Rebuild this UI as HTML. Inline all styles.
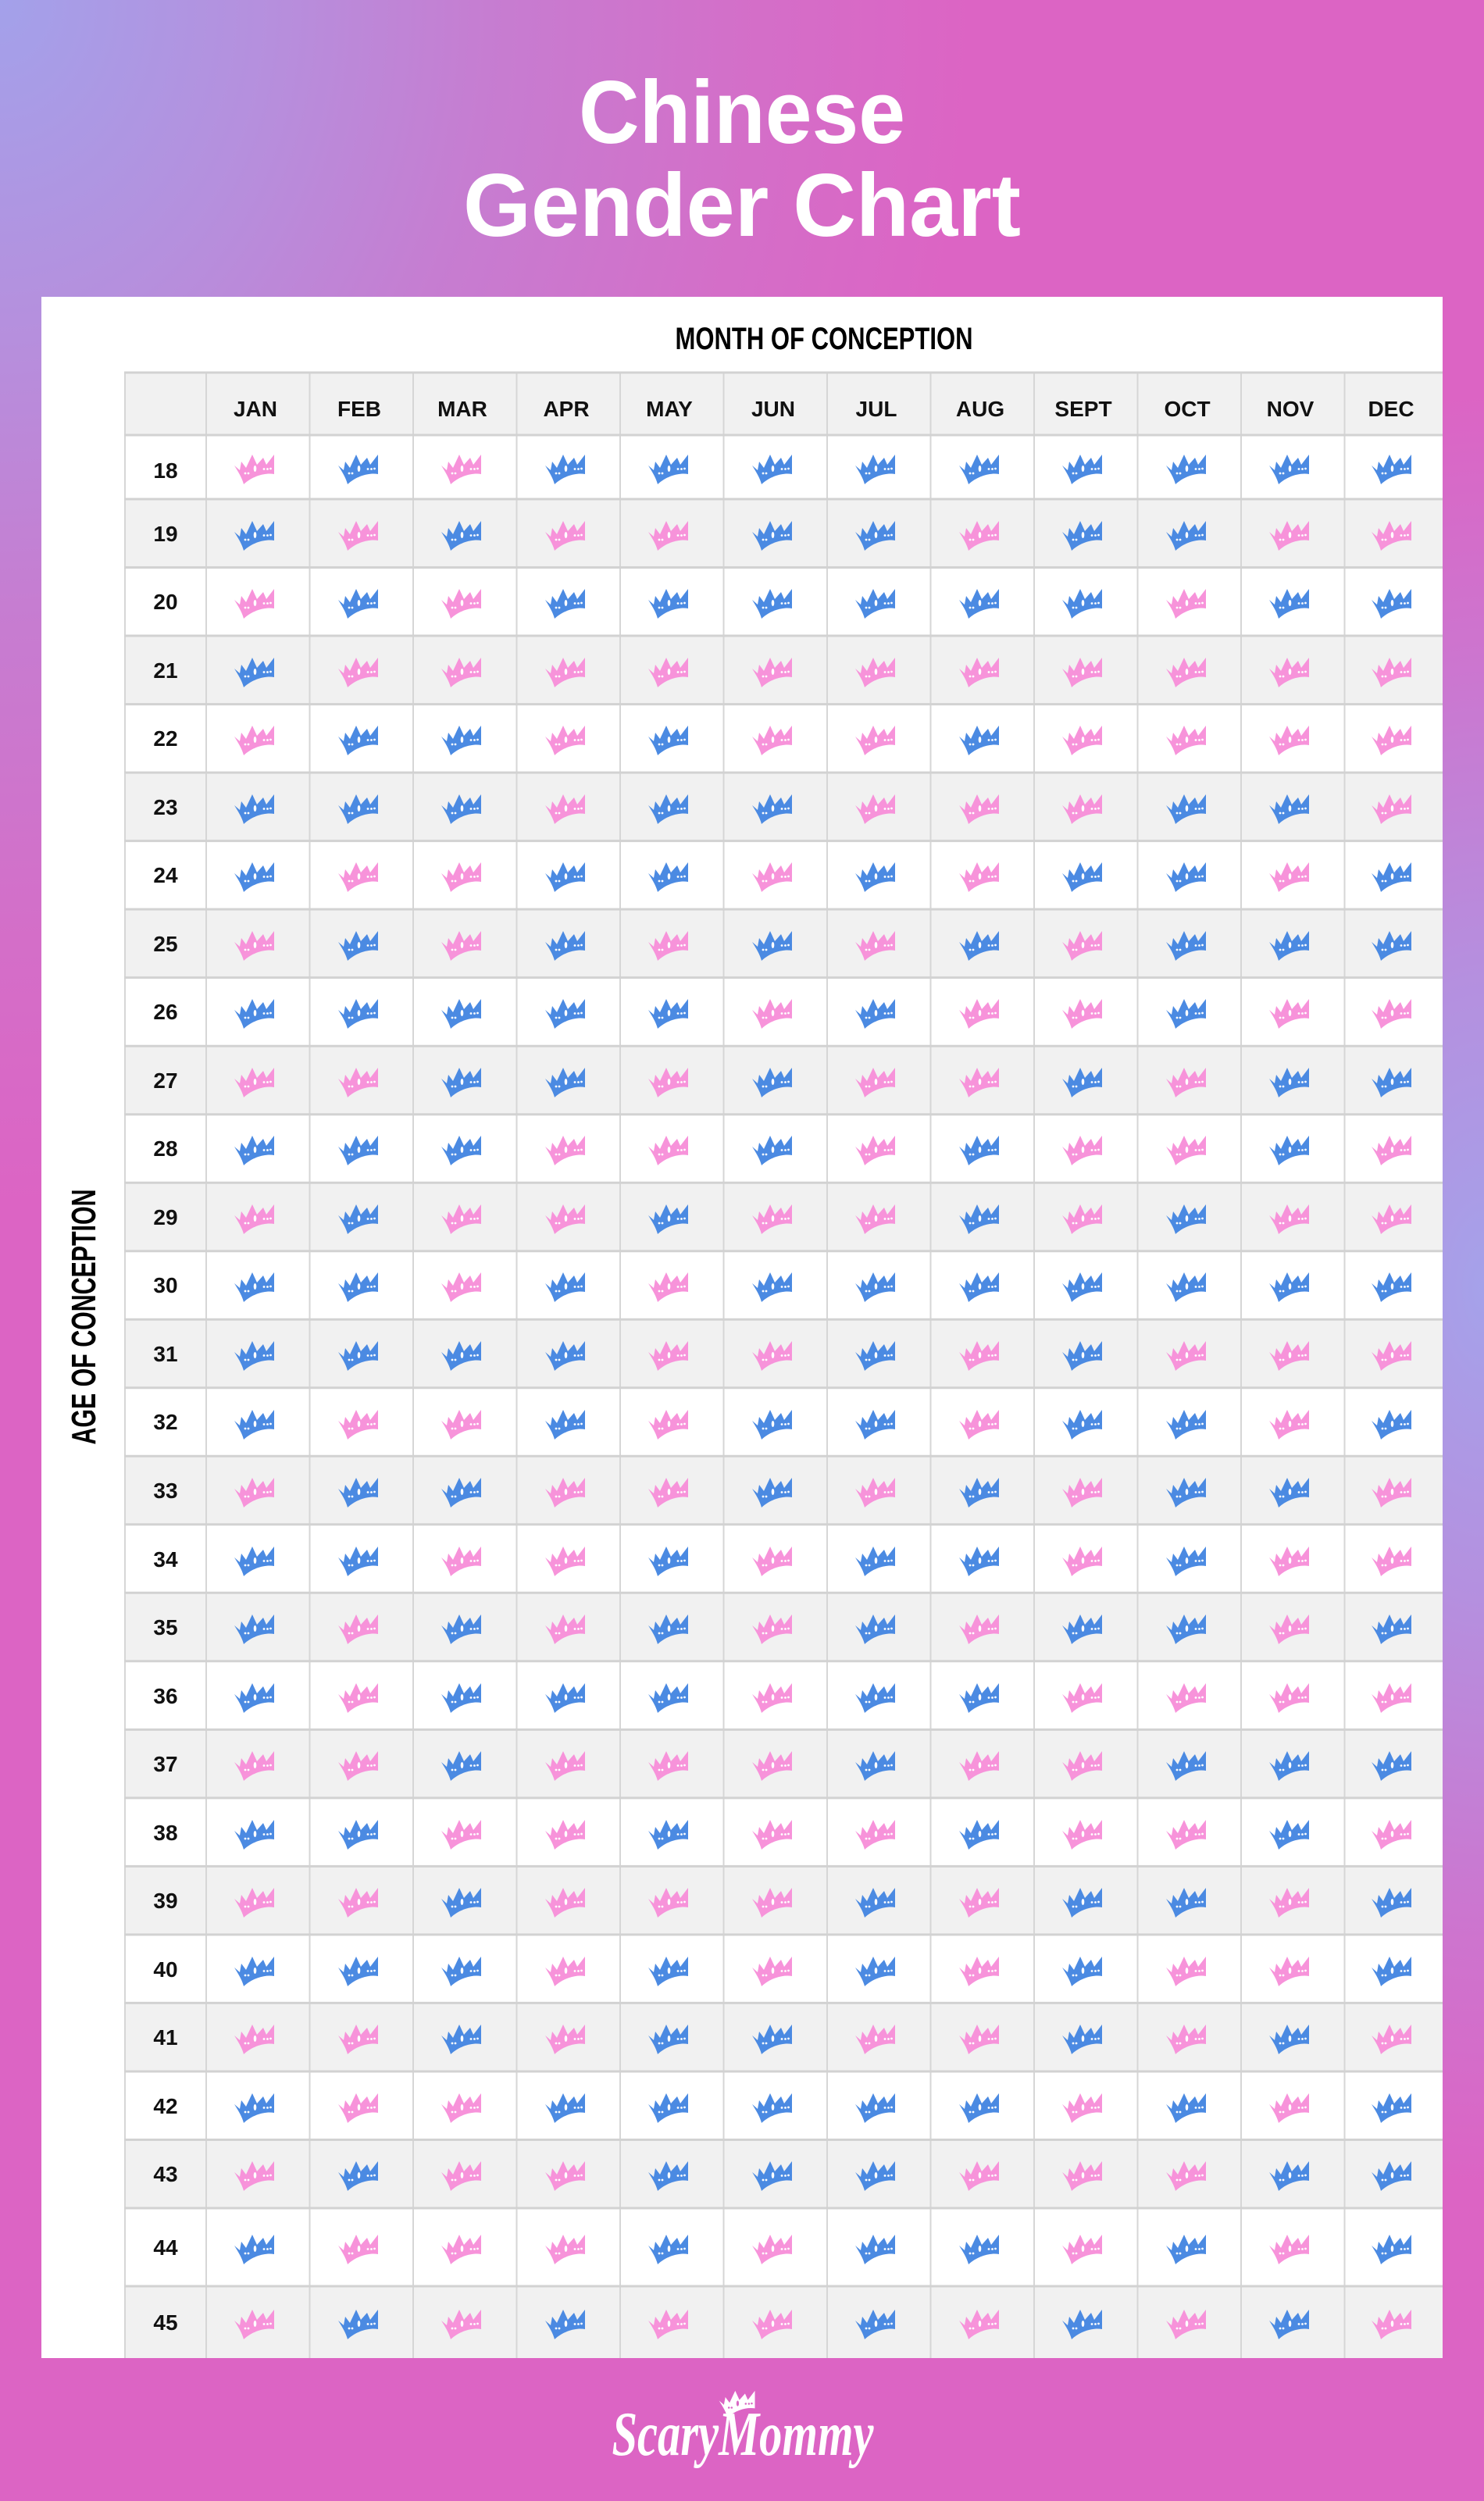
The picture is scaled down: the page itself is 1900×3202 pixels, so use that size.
<!DOCTYPE html>
<html>
<head>
<meta charset="utf-8">
<style>
html,body{margin:0;padding:0;width:1900px;height:3202px;overflow:hidden}
body{
background:
radial-gradient(ellipse 560px 1150px at 1900px 1650px, rgba(165,162,234,1) 0%, rgba(168,158,232,0.75) 35%, rgba(175,150,228,0.35) 70%, rgba(180,140,225,0) 100%),
radial-gradient(ellipse 1250px 1550px at 0 0, #a3a1ea 0%, #b68fdd 28%, #c67dd1 50%, #d46ec8 78%, rgba(220,100,196,0) 100%),
#dc64c4;
}
svg{display:block;position:absolute;left:0;top:0}
</style>
</head>
<body>
<svg width="1900" height="3202" viewBox="0 0 1900 3202" xmlns="http://www.w3.org/2000/svg">
<defs>
<path id="cr" d="M-26,-5 L-19,1 L-17,-10 L-11,-2 L-3,-19 L3,-6 L11,-15 L15,-6 L25,-19 L25,6 C14,4 -2,8 -14,19 C-16,11 -21,3 -26,-5 Z"/>
<g id="dt"><ellipse cx="0.5" cy="-1" rx="1.8" ry="4"/><circle cx="-12" cy="5" r="1.4"/><circle cx="-8" cy="5" r="1.4"/><circle cx="12" cy="-0.5" r="1.4"/><circle cx="16.5" cy="-0.5" r="1.4"/><circle cx="20.5" cy="-1" r="1.4"/></g>
<g id="p"><use href="#cr" fill="#f793da"/><use href="#dt" fill="#fff"/></g>
<g id="b"><use href="#cr" fill="#4b8ae2"/><use href="#dt" fill="#fff"/></g>
</defs>

<!-- Title -->
<g font-family="'Liberation Sans', Arial, sans-serif" font-weight="bold" fill="#fff" text-anchor="middle" font-size="114">
<text x="950" y="183" textLength="418" lengthAdjust="spacingAndGlyphs">Chinese</text>
<text x="950" y="302" textLength="714" lengthAdjust="spacingAndGlyphs">Gender Chart</text>
</g>

<!-- Panel -->
<rect x="53" y="380" width="1794" height="2639" fill="#fff"/>

<text x="1055" y="447" font-family="'Liberation Sans', Arial, sans-serif" font-weight="bold" font-size="40" text-anchor="middle" fill="#000" textLength="381" lengthAdjust="spacingAndGlyphs">MONTH OF CONCEPTION</text>
<g transform="translate(122,1686) rotate(-90)">
<text x="0" y="0" font-family="'Liberation Sans', Arial, sans-serif" font-weight="bold" font-size="44" text-anchor="middle" fill="#000" textLength="327" lengthAdjust="spacingAndGlyphs">AGE OF CONCEPTION</text>
</g>

<!-- Row fills -->
<g fill="#f1f1f1">
<rect x="160" y="477" width="1687" height="80"/>
<rect x="160" y="639" width="1687" height="87.5"/>
<rect x="160" y="814" width="1687" height="87.6"/>
<rect x="160" y="989.1" width="1687" height="87.5"/>
<rect x="160" y="1164.1" width="1687" height="87.5"/>
<rect x="160" y="1339.2" width="1687" height="87.5"/>
<rect x="160" y="1514.2" width="1687" height="87.5"/>
<rect x="160" y="1689.2" width="1687" height="87.6"/>
<rect x="160" y="1864.3" width="1687" height="87.5"/>
<rect x="160" y="2039.3" width="1687" height="87.5"/>
<rect x="160" y="2214.4" width="1687" height="87.5"/>
<rect x="160" y="2389.4" width="1687" height="87.5"/>
<rect x="160" y="2564.4" width="1687" height="87.6"/>
<rect x="160" y="2739.5" width="1687" height="87.5"/>
<rect x="160" y="2927" width="1687" height="92"/>
</g>

<!-- Grid lines -->
<path fill="none" stroke="#d6d6d6" stroke-width="2" d="M160,477V3019 M264,477V3019 M396.5,477V3019 M529,477V3019 M661.5,477V3019 M794,477V3019 M926.5,477V3019 M1059,477V3019 M1191.5,477V3019 M1324,477V3019 M1456.5,477V3019 M1589,477V3019 M1721.5,477V3019"/>
<path fill="none" stroke="#d2d2d2" stroke-width="3" d="M159,477H1847 M159,557H1847 M159,639H1847 M159,726.5H1847 M159,814H1847 M159,901.6H1847 M159,989.1H1847 M159,1076.6H1847 M159,1164.1H1847 M159,1251.6H1847 M159,1339.2H1847 M159,1426.7H1847 M159,1514.2H1847 M159,1601.7H1847 M159,1689.2H1847 M159,1776.8H1847 M159,1864.3H1847 M159,1951.8H1847 M159,2039.3H1847 M159,2126.8H1847 M159,2214.4H1847 M159,2301.9H1847 M159,2389.4H1847 M159,2476.9H1847 M159,2564.4H1847 M159,2652H1847 M159,2739.5H1847 M159,2827H1847 M159,2927H1847"/>

<!-- Month headers -->
<g font-family="'Liberation Sans', Arial, sans-serif" font-weight="bold" font-size="28" text-anchor="middle" fill="#111">
<text x="327" y="533">JAN</text>
<text x="460" y="533">FEB</text>
<text x="592" y="533">MAR</text>
<text x="725" y="533">APR</text>
<text x="857" y="533">MAY</text>
<text x="990" y="533">JUN</text>
<text x="1122" y="533">JUL</text>
<text x="1255" y="533">AUG</text>
<text x="1387" y="533">SEPT</text>
<text x="1520" y="533">OCT</text>
<text x="1652" y="533">NOV</text>
<text x="1781" y="533">DEC</text>
</g>

<!-- Age labels -->
<g font-family="'Liberation Sans', Arial, sans-serif" font-weight="bold" font-size="28" text-anchor="middle" fill="#111">
<text x="212" y="612">18</text>
<text x="212" y="693">19</text>
<text x="212" y="780">20</text>
<text x="212" y="868">21</text>
<text x="212" y="955">22</text>
<text x="212" y="1043">23</text>
<text x="212" y="1130">24</text>
<text x="212" y="1218">25</text>
<text x="212" y="1305">26</text>
<text x="212" y="1393">27</text>
<text x="212" y="1480">28</text>
<text x="212" y="1568">29</text>
<text x="212" y="1655">30</text>
<text x="212" y="1743">31</text>
<text x="212" y="1830">32</text>
<text x="212" y="1918">33</text>
<text x="212" y="2006">34</text>
<text x="212" y="2093">35</text>
<text x="212" y="2181">36</text>
<text x="212" y="2268">37</text>
<text x="212" y="2356">38</text>
<text x="212" y="2443">39</text>
<text x="212" y="2531">40</text>
<text x="212" y="2618">41</text>
<text x="212" y="2706">42</text>
<text x="212" y="2793">43</text>
<text x="212" y="2887">44</text>
<text x="212" y="2983">45</text>
</g>

<!-- Crowns -->
<g transform="translate(0,601)"><use href="#p" x="326"/><use href="#b" x="459"/><use href="#p" x="591"/><use href="#b" x="724"/><use href="#b" x="856"/><use href="#b" x="989"/><use href="#b" x="1121"/><use href="#b" x="1254"/><use href="#b" x="1386"/><use href="#b" x="1519"/><use href="#b" x="1651"/><use href="#b" x="1782"/></g>
<g transform="translate(0,686)"><use href="#b" x="326"/><use href="#p" x="459"/><use href="#b" x="591"/><use href="#p" x="724"/><use href="#p" x="856"/><use href="#b" x="989"/><use href="#b" x="1121"/><use href="#p" x="1254"/><use href="#b" x="1386"/><use href="#b" x="1519"/><use href="#p" x="1651"/><use href="#p" x="1782"/></g>
<g transform="translate(0,773)"><use href="#p" x="326"/><use href="#b" x="459"/><use href="#p" x="591"/><use href="#b" x="724"/><use href="#b" x="856"/><use href="#b" x="989"/><use href="#b" x="1121"/><use href="#b" x="1254"/><use href="#b" x="1386"/><use href="#p" x="1519"/><use href="#b" x="1651"/><use href="#b" x="1782"/></g>
<g transform="translate(0,861)"><use href="#b" x="326"/><use href="#p" x="459"/><use href="#p" x="591"/><use href="#p" x="724"/><use href="#p" x="856"/><use href="#p" x="989"/><use href="#p" x="1121"/><use href="#p" x="1254"/><use href="#p" x="1386"/><use href="#p" x="1519"/><use href="#p" x="1651"/><use href="#p" x="1782"/></g>
<g transform="translate(0,948)"><use href="#p" x="326"/><use href="#b" x="459"/><use href="#b" x="591"/><use href="#p" x="724"/><use href="#b" x="856"/><use href="#p" x="989"/><use href="#p" x="1121"/><use href="#b" x="1254"/><use href="#p" x="1386"/><use href="#p" x="1519"/><use href="#p" x="1651"/><use href="#p" x="1782"/></g>
<g transform="translate(0,1036)"><use href="#b" x="326"/><use href="#b" x="459"/><use href="#b" x="591"/><use href="#p" x="724"/><use href="#b" x="856"/><use href="#b" x="989"/><use href="#p" x="1121"/><use href="#p" x="1254"/><use href="#p" x="1386"/><use href="#b" x="1519"/><use href="#b" x="1651"/><use href="#p" x="1782"/></g>
<g transform="translate(0,1123)"><use href="#b" x="326"/><use href="#p" x="459"/><use href="#p" x="591"/><use href="#b" x="724"/><use href="#b" x="856"/><use href="#p" x="989"/><use href="#b" x="1121"/><use href="#p" x="1254"/><use href="#b" x="1386"/><use href="#b" x="1519"/><use href="#p" x="1651"/><use href="#b" x="1782"/></g>
<g transform="translate(0,1211)"><use href="#p" x="326"/><use href="#b" x="459"/><use href="#p" x="591"/><use href="#b" x="724"/><use href="#p" x="856"/><use href="#b" x="989"/><use href="#p" x="1121"/><use href="#b" x="1254"/><use href="#p" x="1386"/><use href="#b" x="1519"/><use href="#b" x="1651"/><use href="#b" x="1782"/></g>
<g transform="translate(0,1298)"><use href="#b" x="326"/><use href="#b" x="459"/><use href="#b" x="591"/><use href="#b" x="724"/><use href="#b" x="856"/><use href="#p" x="989"/><use href="#b" x="1121"/><use href="#p" x="1254"/><use href="#p" x="1386"/><use href="#b" x="1519"/><use href="#p" x="1651"/><use href="#p" x="1782"/></g>
<g transform="translate(0,1386)"><use href="#p" x="326"/><use href="#p" x="459"/><use href="#b" x="591"/><use href="#b" x="724"/><use href="#p" x="856"/><use href="#b" x="989"/><use href="#p" x="1121"/><use href="#p" x="1254"/><use href="#b" x="1386"/><use href="#p" x="1519"/><use href="#b" x="1651"/><use href="#b" x="1782"/></g>
<g transform="translate(0,1473)"><use href="#b" x="326"/><use href="#b" x="459"/><use href="#b" x="591"/><use href="#p" x="724"/><use href="#p" x="856"/><use href="#b" x="989"/><use href="#p" x="1121"/><use href="#b" x="1254"/><use href="#p" x="1386"/><use href="#p" x="1519"/><use href="#b" x="1651"/><use href="#p" x="1782"/></g>
<g transform="translate(0,1561)"><use href="#p" x="326"/><use href="#b" x="459"/><use href="#p" x="591"/><use href="#p" x="724"/><use href="#b" x="856"/><use href="#p" x="989"/><use href="#p" x="1121"/><use href="#b" x="1254"/><use href="#p" x="1386"/><use href="#b" x="1519"/><use href="#p" x="1651"/><use href="#p" x="1782"/></g>
<g transform="translate(0,1648)"><use href="#b" x="326"/><use href="#b" x="459"/><use href="#p" x="591"/><use href="#b" x="724"/><use href="#p" x="856"/><use href="#b" x="989"/><use href="#b" x="1121"/><use href="#b" x="1254"/><use href="#b" x="1386"/><use href="#b" x="1519"/><use href="#b" x="1651"/><use href="#b" x="1782"/></g>
<g transform="translate(0,1736)"><use href="#b" x="326"/><use href="#b" x="459"/><use href="#b" x="591"/><use href="#b" x="724"/><use href="#p" x="856"/><use href="#p" x="989"/><use href="#b" x="1121"/><use href="#p" x="1254"/><use href="#b" x="1386"/><use href="#p" x="1519"/><use href="#p" x="1651"/><use href="#p" x="1782"/></g>
<g transform="translate(0,1824)"><use href="#b" x="326"/><use href="#p" x="459"/><use href="#p" x="591"/><use href="#b" x="724"/><use href="#p" x="856"/><use href="#b" x="989"/><use href="#b" x="1121"/><use href="#p" x="1254"/><use href="#b" x="1386"/><use href="#b" x="1519"/><use href="#p" x="1651"/><use href="#b" x="1782"/></g>
<g transform="translate(0,1911)"><use href="#p" x="326"/><use href="#b" x="459"/><use href="#b" x="591"/><use href="#p" x="724"/><use href="#p" x="856"/><use href="#b" x="989"/><use href="#p" x="1121"/><use href="#b" x="1254"/><use href="#p" x="1386"/><use href="#b" x="1519"/><use href="#b" x="1651"/><use href="#p" x="1782"/></g>
<g transform="translate(0,1999)"><use href="#b" x="326"/><use href="#b" x="459"/><use href="#p" x="591"/><use href="#p" x="724"/><use href="#b" x="856"/><use href="#p" x="989"/><use href="#b" x="1121"/><use href="#b" x="1254"/><use href="#p" x="1386"/><use href="#b" x="1519"/><use href="#p" x="1651"/><use href="#p" x="1782"/></g>
<g transform="translate(0,2086)"><use href="#b" x="326"/><use href="#p" x="459"/><use href="#b" x="591"/><use href="#p" x="724"/><use href="#b" x="856"/><use href="#p" x="989"/><use href="#b" x="1121"/><use href="#p" x="1254"/><use href="#b" x="1386"/><use href="#b" x="1519"/><use href="#p" x="1651"/><use href="#b" x="1782"/></g>
<g transform="translate(0,2174)"><use href="#b" x="326"/><use href="#p" x="459"/><use href="#b" x="591"/><use href="#b" x="724"/><use href="#b" x="856"/><use href="#p" x="989"/><use href="#b" x="1121"/><use href="#b" x="1254"/><use href="#p" x="1386"/><use href="#p" x="1519"/><use href="#p" x="1651"/><use href="#p" x="1782"/></g>
<g transform="translate(0,2261)"><use href="#p" x="326"/><use href="#p" x="459"/><use href="#b" x="591"/><use href="#p" x="724"/><use href="#p" x="856"/><use href="#p" x="989"/><use href="#b" x="1121"/><use href="#p" x="1254"/><use href="#p" x="1386"/><use href="#b" x="1519"/><use href="#b" x="1651"/><use href="#b" x="1782"/></g>
<g transform="translate(0,2349)"><use href="#b" x="326"/><use href="#b" x="459"/><use href="#p" x="591"/><use href="#p" x="724"/><use href="#b" x="856"/><use href="#p" x="989"/><use href="#p" x="1121"/><use href="#b" x="1254"/><use href="#p" x="1386"/><use href="#p" x="1519"/><use href="#b" x="1651"/><use href="#p" x="1782"/></g>
<g transform="translate(0,2436)"><use href="#p" x="326"/><use href="#p" x="459"/><use href="#b" x="591"/><use href="#p" x="724"/><use href="#p" x="856"/><use href="#p" x="989"/><use href="#b" x="1121"/><use href="#p" x="1254"/><use href="#b" x="1386"/><use href="#b" x="1519"/><use href="#p" x="1651"/><use href="#b" x="1782"/></g>
<g transform="translate(0,2524)"><use href="#b" x="326"/><use href="#b" x="459"/><use href="#b" x="591"/><use href="#p" x="724"/><use href="#b" x="856"/><use href="#p" x="989"/><use href="#b" x="1121"/><use href="#p" x="1254"/><use href="#b" x="1386"/><use href="#p" x="1519"/><use href="#p" x="1651"/><use href="#b" x="1782"/></g>
<g transform="translate(0,2611)"><use href="#p" x="326"/><use href="#p" x="459"/><use href="#b" x="591"/><use href="#p" x="724"/><use href="#b" x="856"/><use href="#b" x="989"/><use href="#p" x="1121"/><use href="#p" x="1254"/><use href="#b" x="1386"/><use href="#p" x="1519"/><use href="#b" x="1651"/><use href="#p" x="1782"/></g>
<g transform="translate(0,2699)"><use href="#b" x="326"/><use href="#p" x="459"/><use href="#p" x="591"/><use href="#b" x="724"/><use href="#b" x="856"/><use href="#b" x="989"/><use href="#b" x="1121"/><use href="#b" x="1254"/><use href="#p" x="1386"/><use href="#b" x="1519"/><use href="#p" x="1651"/><use href="#b" x="1782"/></g>
<g transform="translate(0,2786)"><use href="#p" x="326"/><use href="#b" x="459"/><use href="#p" x="591"/><use href="#p" x="724"/><use href="#b" x="856"/><use href="#b" x="989"/><use href="#b" x="1121"/><use href="#p" x="1254"/><use href="#p" x="1386"/><use href="#p" x="1519"/><use href="#b" x="1651"/><use href="#b" x="1782"/></g>
<g transform="translate(0,2880)"><use href="#b" x="326"/><use href="#p" x="459"/><use href="#p" x="591"/><use href="#p" x="724"/><use href="#b" x="856"/><use href="#p" x="989"/><use href="#b" x="1121"/><use href="#b" x="1254"/><use href="#p" x="1386"/><use href="#b" x="1519"/><use href="#p" x="1651"/><use href="#b" x="1782"/></g>
<g transform="translate(0,2976)"><use href="#p" x="326"/><use href="#b" x="459"/><use href="#p" x="591"/><use href="#b" x="724"/><use href="#p" x="856"/><use href="#p" x="989"/><use href="#b" x="1121"/><use href="#p" x="1254"/><use href="#b" x="1386"/><use href="#p" x="1519"/><use href="#b" x="1651"/><use href="#p" x="1782"/></g>

<!-- Logo -->
<g transform="translate(944,3078) scale(0.9)"><use href="#cr" fill="#fff"/><use href="#dt" fill="#d868c4"/></g>
<text x="951" y="3143" font-family="'Liberation Serif', 'DejaVu Serif', serif" font-style="italic" font-weight="bold" font-size="80" text-anchor="middle" fill="#fff" textLength="335" lengthAdjust="spacingAndGlyphs">ScaryMommy</text>
</svg>
</body>
</html>
